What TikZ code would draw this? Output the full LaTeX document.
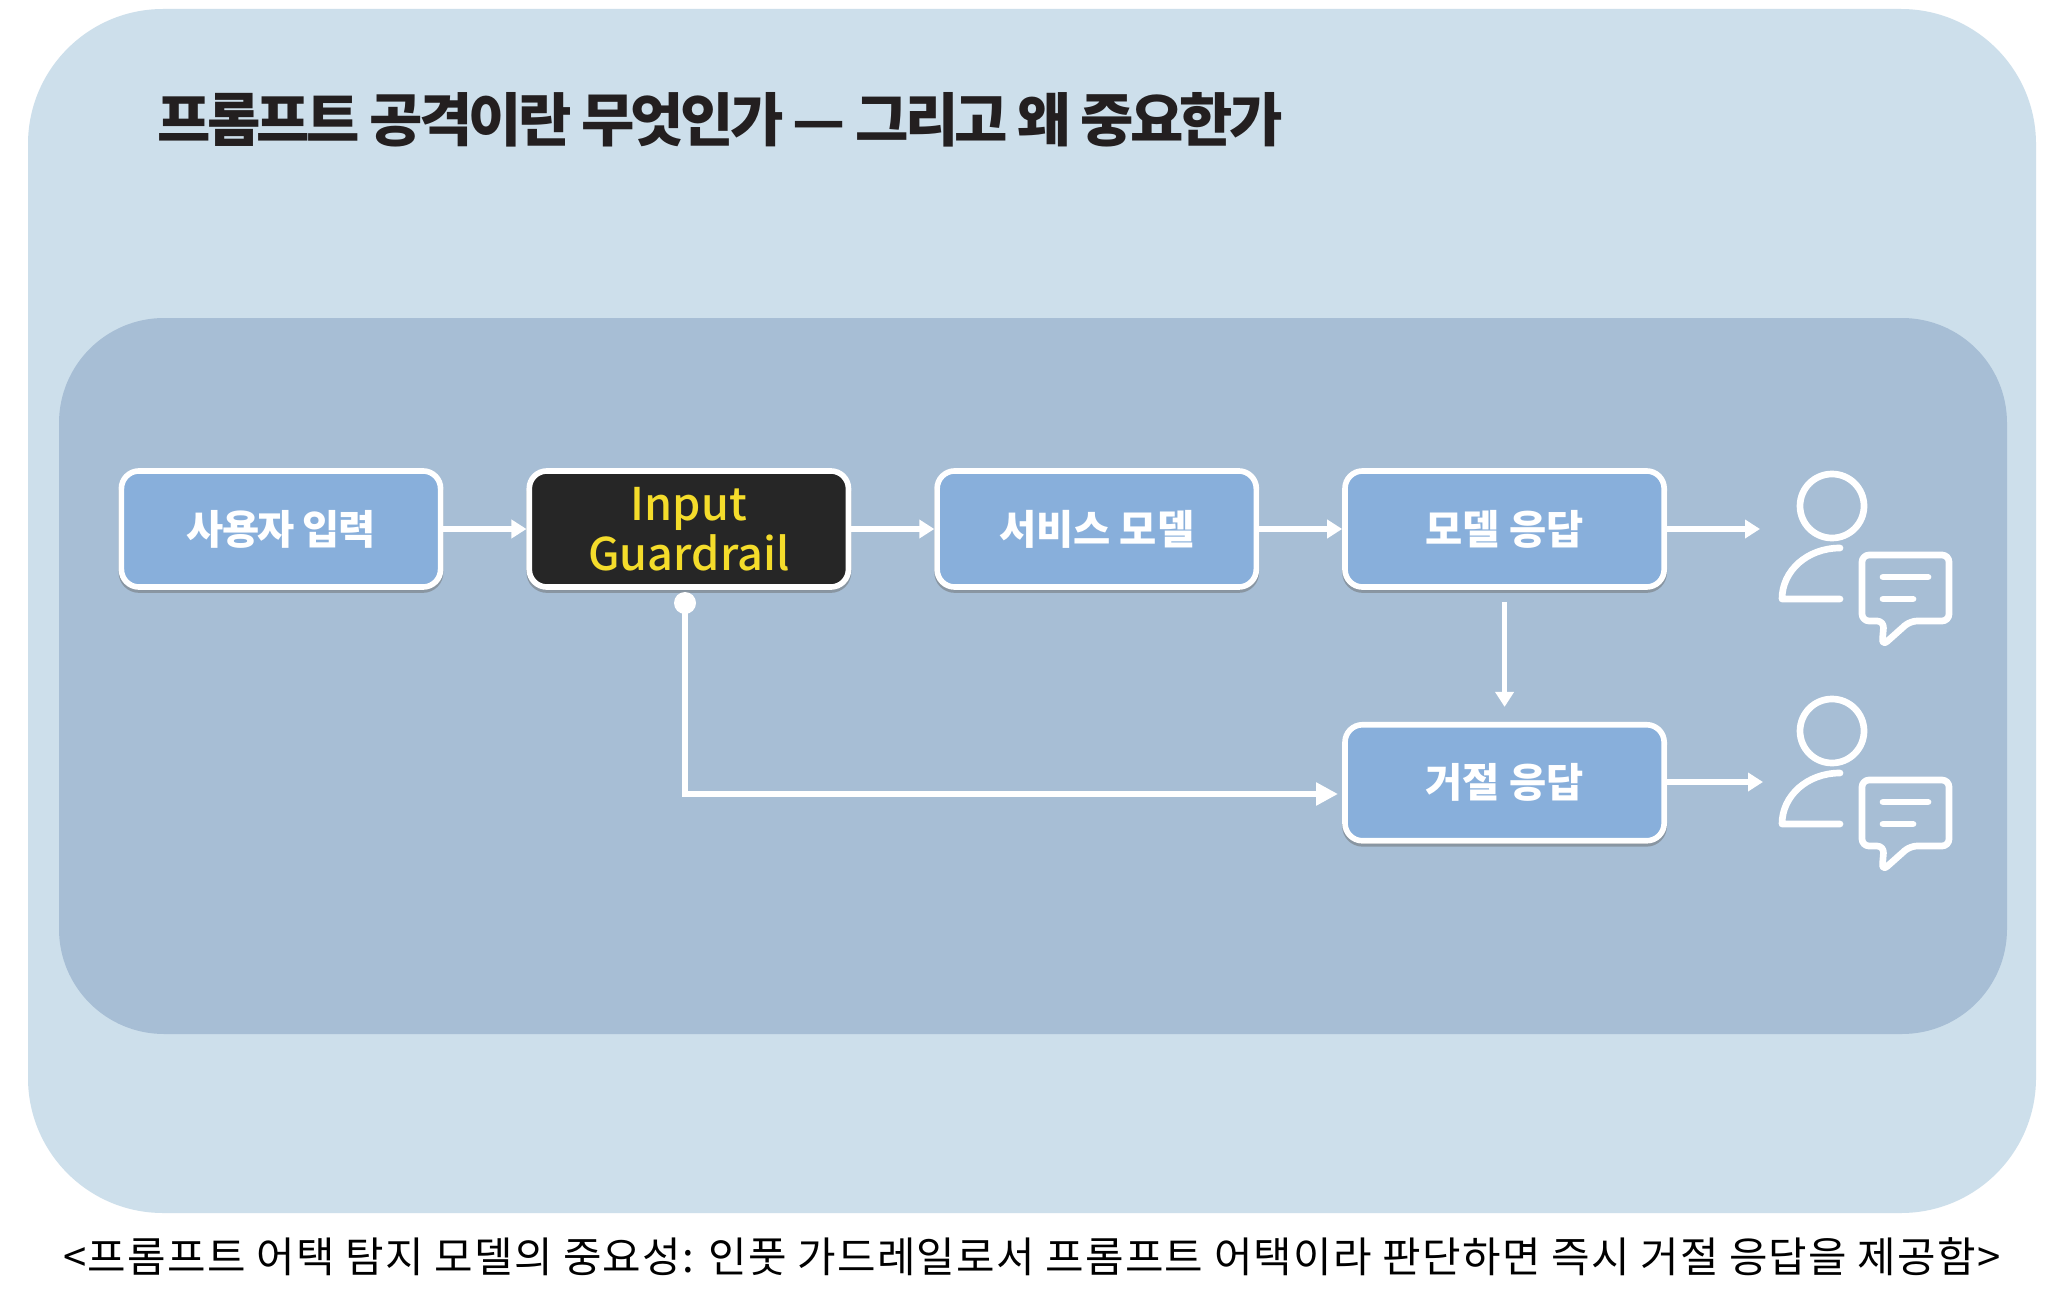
\documentclass[tikz,border=0pt]{standalone}
\usepackage{fontspec}
\setmainfont{Noto Sans CJK KR}
\newfontfamily\guardfont{Noto Sans CJK KR Medium}
\usetikzlibrary{arrows.meta,positioning,shadows}
\definecolor{outerblue}{HTML}{CDDFEB}
\definecolor{innerblue}{HTML}{A7BED5}
\definecolor{boxblue}{HTML}{88AFDB}
\definecolor{guardblack}{HTML}{262626}
\definecolor{guardyellow}{HTML}{F4DC2B}
\definecolor{titleblack}{HTML}{231F20}
\tikzset{
	usericon/.pic={
		\draw[iconline] (0,0) circle [radius=32];
		\draw[iconline] (8,42) .. controls (-25,42) and (-50,65) .. (-50,93) -- (8,93);
		\draw[iconline, rounded corners=2pt] (30,49) -- (117,49) -- (117,115) -- (78,115)
			-- (50,140) -- (52,115) -- (30,115) -- cycle;
		\draw[iconline] (51,71) -- (96,71);
		\draw[iconline] (51,93) -- (81,93);
	}
}
\begin{document}
\begin{tikzpicture}[
			x=0.01cm, y=-0.01cm,
			node distance=1.32cm and 0.83cm,
			panel/.style={rounded corners=#1},
			box/.style={draw=white, rounded corners=5pt, align=center, minimum height=1.16cm,
				minimum width=3.19cm, fill=boxblue, line width=1.6pt, text=white, inner sep=0pt,
				font=\fontsize{11.5}{14}\selectfont\bfseries,
				drop shadow={shadow xshift=0pt, shadow yshift=-0.3mm, opacity=0.45, fill=black!60, draw=black!60}},
			arr/.style={-{Triangle[length=1.5mm,width=1.8mm]}, white, line width=1.6pt},
			bigarr/.style={-{Triangle[length=2.2mm,width=2.2mm]}, white, line width=1.6pt},
			iconline/.style={draw=white, line width=1.9pt, line cap=round, line join=round}
			]
			\useasboundingbox (0,0) rectangle (2048,1297);
			\fill[white] (0,0) rectangle (2048,1297);
			\fill[outerblue, panel=1.35cm] (28,9) rectangle (2036,1213);
			\fill[innerblue, panel=1.05cm] (59,318) rectangle (2007,1034);

			\node[anchor=west, text=titleblack, inner sep=0pt, font=\fontsize{16.5}{20}\selectfont\bfseries\addfontfeature{LetterSpace=-6.5}] (title) at (157,120)
			{프롬프트 공격이란 무엇인가 — 그리고 왜 중요한가};

			\node[box, font=\fontsize{11.5}{14}\selectfont\bfseries\addfontfeature{LetterSpace=-4}] (input) at (281,529) {사용자 입력};
			\node[box, right=of input, fill=guardblack, text=guardyellow,
				font=\fontsize{12.8}{14.2}\selectfont\guardfont] (guard) {Input\\Guardrail};
			\node[box, right=of guard] (model) {서비스 모델};
			\node[box, right=of model] (answer) {모델 응답};
			\node[box, below=of answer] (reject) {거절 응답};

			\coordinate (answerend) at (1760,529);
			\coordinate (rejectend) at (1763,782);
			\coordinate (dotstart) at (685,603);
			\coordinate (rejectin) at (1338,794);

			\pic (iconup) at (1832,506) {usericon};
			\pic (icondown) at (1832,731) {usericon};

			\draw[arr] (input) -- (guard);
			\draw[arr] (guard) -- (model);
			\draw[arr] (model) -- (answer);
			\draw[arr] (answer.east |- answerend) -- (answerend);
			\draw[arr] (reject.east |- rejectend) -- (rejectend);
			\draw[arr] ([yshift=-0.12cm]answer.south) -- ([yshift=0.15cm]reject.north);
			\fill[white] (dotstart) circle [radius=11];
			\draw[bigarr] (dotstart) -- (dotstart |- rejectin) -- (rejectin);

			\node[text=black, inner sep=0pt, font=\fontsize{11.9}{14}\selectfont\addfontfeature{LetterSpace=3.1}] (caption) at (1032,1257)
			{<프롬프트 어택 탐지 모델의 중요성: 인풋 가드레일로서 프롬프트 어택이라 판단하면 즉시 거절 응답을 제공함>};
		\end{tikzpicture}
\end{document}
